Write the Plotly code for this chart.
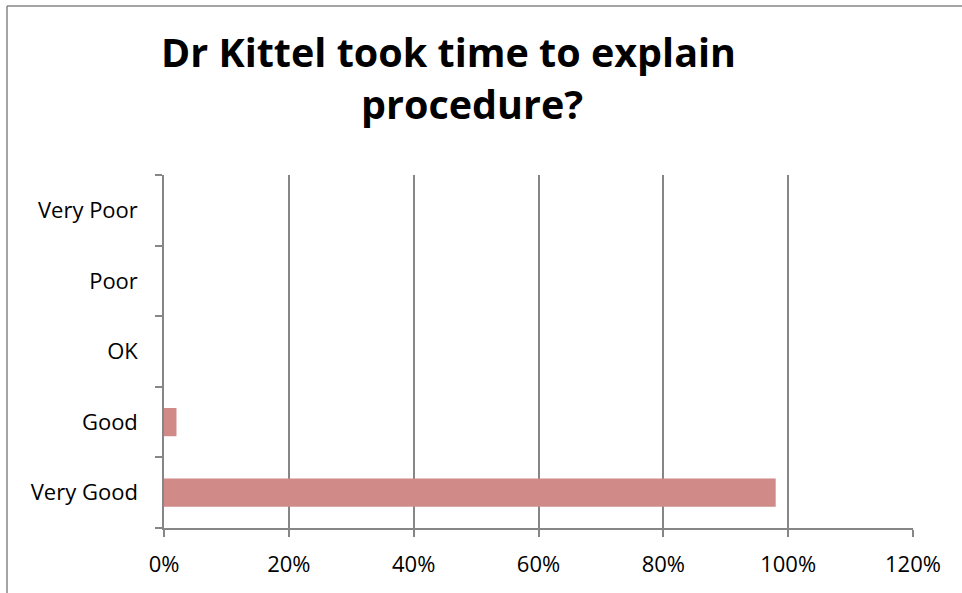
import plotly.graph_objects as go

categories = ["Very Good", "Good", "OK", "Poor", "Very Poor"]
values = [0.98, 0.02, 0, 0, 0]
x_ticks = [0, 0.2, 0.4, 0.6, 0.8, 1.0, 1.2]
title_lines = ["Dr Kittel took time to explain", "procedure?"]

W, H = 962, 593
L, R, T, B = 164, 49, 175, 65
PW, PH = W - L - R, H - T - B


def px_x(px):
    return (px - L) / PW


def px_y(py):
    return (H - B - py) / PH


FONT = "'Open Sans', Lato, sans-serif"
GRID = "#868686"

fig = go.Figure()
fig.add_trace(go.Bar(
    y=categories, x=values, orientation="h",
    marker=dict(color="#D08A88", line=dict(color="#B06C6A", width=0)),
    width=0.4,
))

title_pos = [(448, 52), (472, 104)]
annotations = []
for line, (cx, cy) in zip(title_lines, title_pos):
    annotations.append(dict(
        text=line, xref="paper", yref="paper",
        x=px_x(cx), y=px_y(cy),
        xanchor="center", yanchor="middle", showarrow=False,
        font=dict(family=FONT, size=39.5, color="#000000", weight="bold"),
    ))

fig.update_layout(
    width=W, height=H,
    margin=dict(l=L, r=R, t=T, b=B),
    paper_bgcolor="white", plot_bgcolor="white",
    showlegend=False,
    font=dict(family=FONT, size=22, color="#000000"),
    annotations=annotations,
    xaxis=dict(range=[0, 1.2], tickvals=x_ticks, tickformat=".0%",
               showgrid=True, gridcolor=GRID, gridwidth=1.5,
               showline=True, linecolor=GRID, linewidth=1.5,
               ticks="outside", ticklen=7, tickcolor=GRID, tickwidth=1.5,
               ticklabelstandoff=9, zeroline=False),
    yaxis=dict(categoryorder="array", categoryarray=categories,
               showgrid=False, showline=True, linecolor=GRID, linewidth=1.5,
               ticks="outside", ticklen=7, tickcolor=GRID, tickwidth=1.5,
               tickson="boundaries", ticklabelstandoff=20, range=[-0.5, 4.5]),
    shapes=[
        dict(type="line", xref="paper", yref="paper",
             x0=px_x(7), x1=px_x(7), y0=px_y(6), y1=px_y(H + 5),
             line=dict(color=GRID, width=1.5)),
        dict(type="line", xref="paper", yref="paper",
             x0=px_x(7), x1=px_x(W + 5), y0=px_y(6), y1=px_y(6),
             line=dict(color=GRID, width=1.5)),
    ],
)

fig.write_html("out.html", config={"displayModeBar": False},
               post_script="document.body.style.margin='0';")
